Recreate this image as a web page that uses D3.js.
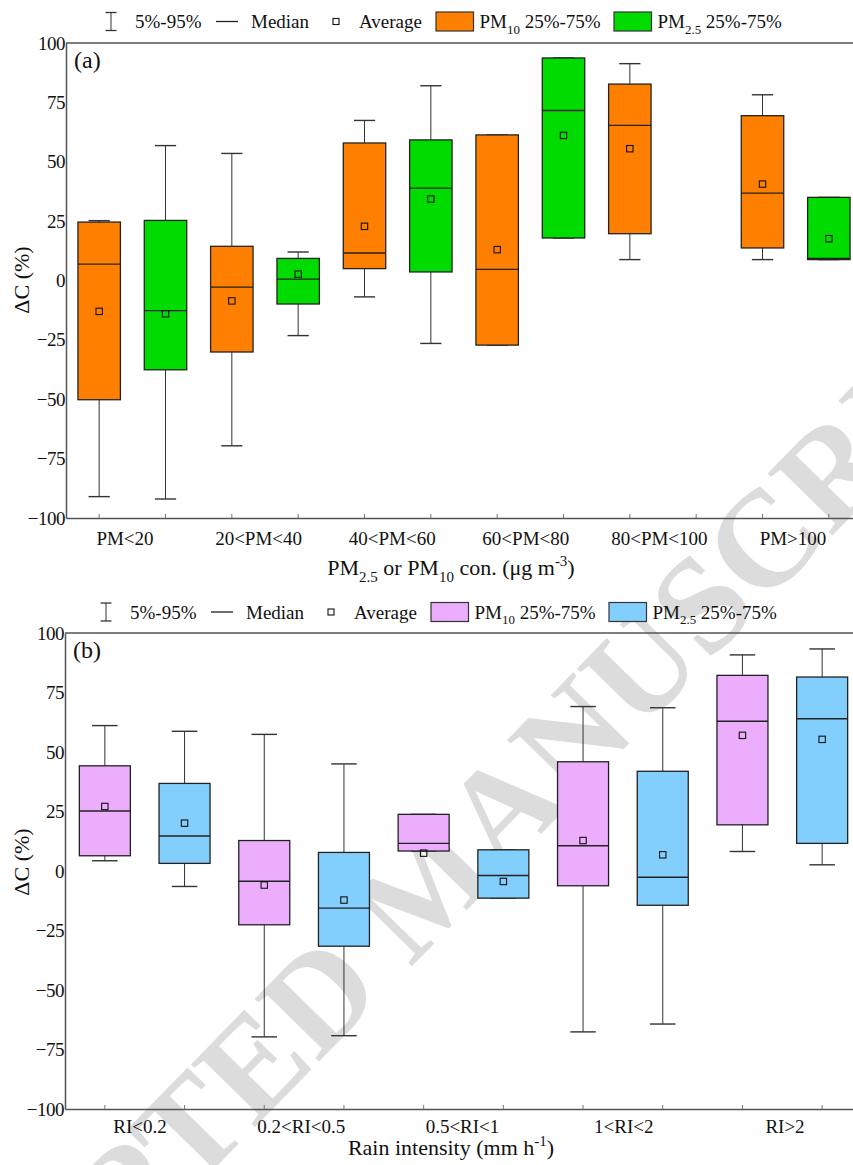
<!DOCTYPE html>
<html>
<head>
<meta charset="utf-8">
<script src="https://cdn.jsdelivr.net/npm/d3@7"></script>
<style>
  html, body { margin: 0; padding: 0; background: #fff; }
  svg { display: block; }
  text { font-family: "Liberation Serif", "Times New Roman", serif; fill: #111; }
</style>
</head>
<body>
<script>
// ---- Panel (a): change in concentration by PM level ----
const catsA = ["PM<20", "20<PM<40", "40<PM<60", "60<PM<80", "80<PM<100", "PM>100"];
const pm10A_p5   = [-91.0, -69.6, -6.9, -27.2,  8.8,  8.8];
const pm10A_q1   = [-50.2, -30.1,  5.0, -27.2, 19.7, 13.7];
const pm10A_med  = [  6.9,  -2.8, 11.6,   4.7, 65.3, 36.8];
const pm10A_q3   = [ 24.6,  14.4, 57.9,  61.3, 82.7, 69.4];
const pm10A_p95  = [ 25.2,  53.5, 67.4,  61.3, 91.3, 78.2];
const pm10A_mean = [-13.0,  -8.6, 22.8,  13.0, 55.5, 40.6];

const pm25A_p5   = [-92.0, -23.2, -26.5, 17.9, null,  8.8];
const pm25A_q1   = [-37.6,  -9.9,   3.6, 17.9, null,  8.8];
const pm25A_med  = [-12.7,   0.6,  38.9, 71.6, null,  9.3];
const pm25A_q3   = [ 25.3,   9.3,  59.2, 93.7, null, 35.0];
const pm25A_p95  = [ 56.8,  12.0,  82.0, 93.7, null, 35.0];
const pm25A_mean = [-14.0,   2.7,  34.3, 61.1, null, 17.6];

// ---- Panel (b): change in concentration by rain intensity ----
const catsB = ["RI<0.2", "0.2<RI<0.5", "0.5<RI<1", "1<RI<2", "RI>2"];
const pm10B_p5   = [ 4.3, -69.7,  8.4, -67.6,  8.2];
const pm10B_q1   = [ 6.4, -22.6,  8.4,  -6.2, 19.4];
const pm10B_med  = [25.2,  -4.3, 11.6,  10.6, 62.9];
const pm10B_q3   = [44.2,  12.8, 23.8,  45.9, 82.2];
const pm10B_p95  = [61.1,  57.4, 23.8,  69.1, 90.8];
const pm10B_mean = [27.1,  -5.9,  7.5,  12.8, 57.0];

const pm25B_p5   = [-6.5, -69.2, -11.4, -64.3,  2.6];
const pm25B_q1   = [ 3.2, -31.6, -11.4, -14.4, 11.6];
const pm25B_med  = [14.7, -15.6,  -1.9,  -2.6, 64.0];
const pm25B_q3   = [36.8,   7.8,   8.9,  41.9, 81.5];
const pm25B_p95  = [58.7,  45.0,   8.9,  68.6, 93.3];
const pm25B_mean = [20.1, -12.2,  -4.4,   6.8, 55.3];

const yTicks = [-100, -75, -50, -25, 0, 25, 50, 75, 100];

const W = 853, H = 1165;
const svg = d3.select("body").append("svg").attr("width", W).attr("height", H);
svg.append("rect").attr("width", W).attr("height", H).attr("fill", "#fff");

// Background watermark
svg.append("text")
  .attr("transform", "translate(427,886) rotate(-45.7)")
  .attr("text-anchor", "middle")
  .attr("dy", "0.33em")
  .style("font-size", "137px")
  .style("font-weight", "bold")
  .style("fill", "#dcdcdc")
  .text("ACCEPTED MANUSCRIPT");

function series(p5, q1, med, q3, p95, mean) {
  return p5.map((d, i) => ({ p5: d, q1: q1[i], med: med[i], q3: q3[i], p95: p95[i], mean: mean[i] }));
}

// Text with optional sub/superscript parts: [[text, "sub"|"sup"|null], ...]
function richText(sel, parts, size) {
  let shift = 0;
  parts.forEach(([t, kind]) => {
    const target = kind === "sub" ? size * 0.3 : kind === "sup" ? -size * 0.4 : 0;
    sel.append("tspan")
      .attr("dy", target - shift)
      .style("font-size", (kind ? size * 0.68 : size) + "px")
      .text(t);
    shift = target;
  });
  return sel;
}

function drawPanel(cfg) {
  const g = svg.append("g");
  const x = d3.scaleBand().domain(d3.range(cfg.nSlots)).range([cfg.left, 862]);
  const y = d3.scaleLinear().domain([-100, 100]).range([cfg.bottom, cfg.top]);
  const bw = x.bandwidth();
  const boxW = bw * 0.64, capW = bw * 0.32;
  const cx = i => x(i) + bw / 2;

  // frame: top line, left axis, bottom axis
  g.append("line").attr("x1", cfg.left).attr("x2", W).attr("y1", y(100)).attr("y2", y(100))
    .attr("stroke", "#555").attr("stroke-width", 1.5);

  const yAxis = d3.axisLeft(y).tickValues(yTicks).tickSize(0).tickPadding(1).tickFormat(d3.format("d"));
  const ya = g.append("g").attr("transform", `translate(${cfg.left},0)`).call(yAxis);
  ya.select(".domain").attr("stroke", "#555").attr("stroke-width", 1.5);
  ya.selectAll("text").style("font-size", "19px").style("letter-spacing", "-0.5px")
    .style("font-family", "'Liberation Serif', serif").attr("fill", "#111");

  const xAxis = d3.axisBottom(x).tickSize(-4).tickFormat("").tickSizeOuter(0);
  const xa = g.append("g").attr("transform", `translate(0,${cfg.bottom})`).call(xAxis);
  xa.select(".domain").attr("stroke", "#555").attr("stroke-width", 1.5);
  xa.selectAll(".tick line").attr("stroke", "#777");

  // category labels
  const lx = d3.scalePoint().domain(cfg.cats).range(cfg.labelRange);
  g.selectAll(".cat").data(cfg.cats).enter().append("text")
    .attr("x", d => lx(d)).attr("y", cfg.labelY)
    .attr("text-anchor", "middle").style("font-size", "19px")
    .text(d => d);

  // boxes
  cfg.groups.forEach((grp, si) => {
    grp.data.forEach((d, i) => {
      if (d.p5 == null) return;
      const c = cx(2 * i + si);
      const b = g.append("g");
      b.append("line").attr("x1", c).attr("x2", c).attr("y1", y(d.p95)).attr("y2", y(d.p5))
        .attr("stroke", "#333").attr("stroke-width", 1);
      [d.p95, d.p5].forEach(v => b.append("line")
        .attr("x1", c - capW / 2).attr("x2", c + capW / 2).attr("y1", y(v)).attr("y2", y(v))
        .attr("stroke", "#333").attr("stroke-width", 1.4));
      b.append("rect").attr("x", c - boxW / 2).attr("width", boxW)
        .attr("y", y(d.q3)).attr("height", y(d.q1) - y(d.q3))
        .attr("fill", grp.color).attr("stroke", "#222").attr("stroke-width", 1.3);
      b.append("line").attr("x1", c - boxW / 2).attr("x2", c + boxW / 2)
        .attr("y1", y(d.med)).attr("y2", y(d.med)).attr("stroke", "#222").attr("stroke-width", 1.4);
      b.append("rect").attr("x", c - 3.2).attr("y", y(d.mean) - 3.2).attr("width", 6.4).attr("height", 6.4)
        .attr("fill", "none").attr("stroke", "#111").attr("stroke-width", 1.1);
    });
  });

  // panel tag
  g.append("text").attr("x", cfg.left + 8).attr("y", y(100) + 25).style("font-size", "24px").text(cfg.tag);

  // axis titles
  g.append("text").attr("transform", `translate(29,${cfg.yTitleY}) rotate(-90)`)
    .attr("text-anchor", "middle").style("font-size", "22px").text("\u0394C (%)");
  richText(g.append("text").attr("x", 451).attr("y", cfg.xTitleY).attr("text-anchor", "middle"),
    cfg.xTitle, 22);

  // legend
  const L = cfg.legendX, ly = cfg.legendY, lg = g.append("g");
  lg.append("line").attr("x1", L).attr("x2", L).attr("y1", ly - 9).attr("y2", ly + 9).attr("stroke", "#333");
  [ly - 9, ly + 9].forEach(v => lg.append("line").attr("x1", L - 5.5).attr("x2", L + 5.5)
    .attr("y1", v).attr("y2", v).attr("stroke", "#333").attr("stroke-width", 1.3));
  lg.append("text").attr("x", L + 24).attr("y", ly + 6.5).style("font-size", "19px").text("5%-95%");
  lg.append("line").attr("x1", L + 105).attr("x2", L + 127).attr("y1", ly).attr("y2", ly)
    .attr("stroke", "#222").attr("stroke-width", 1.3);
  lg.append("text").attr("x", L + 140).attr("y", ly + 6.5).style("font-size", "19px").text("Median");
  lg.append("rect").attr("x", L + 222).attr("y", ly - 3).attr("width", 6).attr("height", 6)
    .attr("fill", "none").attr("stroke", "#111").attr("stroke-width", 1.1);
  lg.append("text").attr("x", L + 248).attr("y", ly + 6.5).style("font-size", "19px").text("Average");
  const legBoxes = [
    { x: L + 325, color: cfg.groups[0].color, parts: [["PM", null], ["10", "sub"], [" 25%-75%", null]] },
    { x: L + 503, color: cfg.groups[1].color, parts: [["PM", null], ["2.5", "sub"], [" 25%-75%", null]] }
  ];
  legBoxes.forEach(e => {
    lg.append("rect").attr("x", e.x).attr("y", ly - 9.5).attr("width", 37.5).attr("height", 19)
      .attr("fill", e.color).attr("stroke", "#333").attr("stroke-width", 1.2);
    richText(lg.append("text").attr("x", e.x + 43.5).attr("y", ly + 6.5), e.parts, 19);
  });
}

drawPanel({
  nSlots: 12, left: 66, top: 43, bottom: 518, tag: "(a)",
  cats: catsA, labelRange: [125, 793], labelY: 545,
  groups: [
    { color: "#ff8000", data: series(pm10A_p5, pm10A_q1, pm10A_med, pm10A_q3, pm10A_p95, pm10A_mean) },
    { color: "#00dc00", data: series(pm25A_p5, pm25A_q1, pm25A_med, pm25A_q3, pm25A_p95, pm25A_mean) }
  ],
  yTitleY: 280, xTitleY: 575,
  xTitle: [["PM", null], ["2.5", "sub"], [" or PM", null], ["10", "sub"], [" con. (\u03bcg m", null], ["-3", "sup"], [")", null]],
  legendX: 111, legendY: 21.5
});

drawPanel({
  nSlots: 10, left: 65, top: 633, bottom: 1109, tag: "(b)",
  cats: catsB, labelRange: [140, 785], labelY: 1133,
  groups: [
    { color: "#ecaefc", data: series(pm10B_p5, pm10B_q1, pm10B_med, pm10B_q3, pm10B_p95, pm10B_mean) },
    { color: "#82cffd", data: series(pm25B_p5, pm25B_q1, pm25B_med, pm25B_q3, pm25B_p95, pm25B_mean) }
  ],
  yTitleY: 862, xTitleY: 1155,
  xTitle: [["Rain intensity (mm h", null], ["-1", "sup"], [")", null]],
  legendX: 106, legendY: 612
});
</script>
</body>
</html>
